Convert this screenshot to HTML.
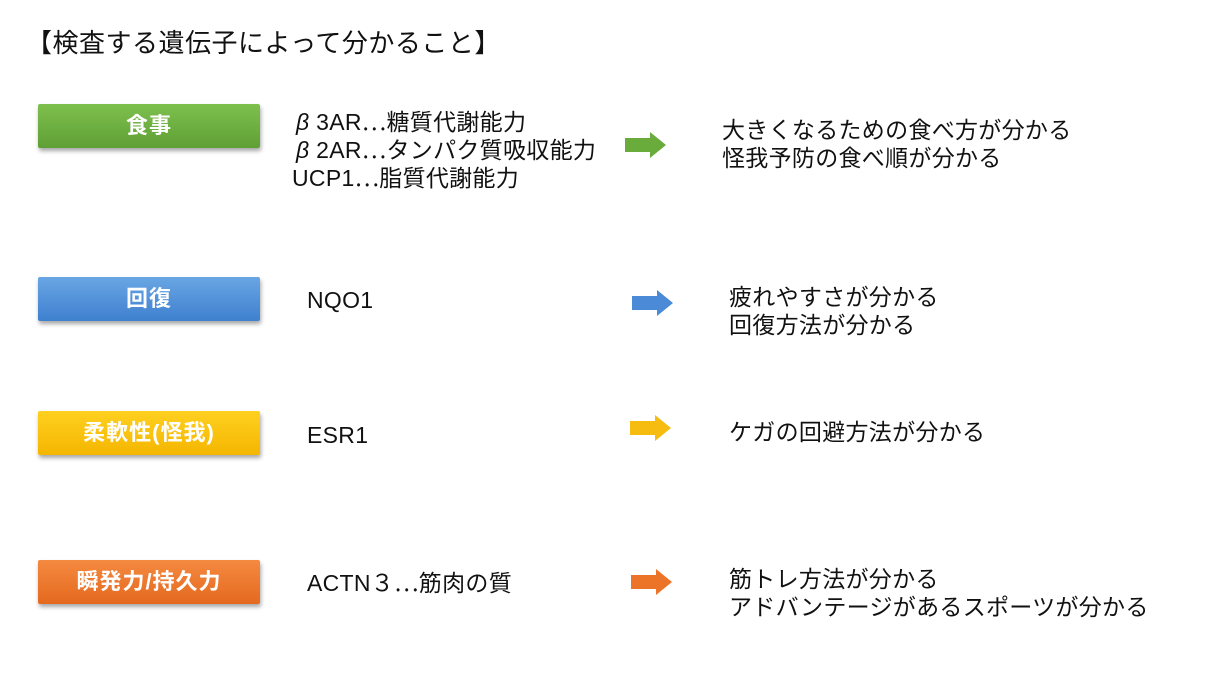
<!DOCTYPE html>
<html><head><meta charset="utf-8"><style>
body{margin:0;width:1218px;height:676px;background:#fff;position:relative;overflow:hidden;font-family:"Liberation Sans","Noto Sans CJK JP",sans-serif;color:#111}
.t{position:absolute;font-size:23px;line-height:28px;white-space:nowrap;letter-spacing:0.3px}
.e{font-family:"Noto Sans CJK JP",sans-serif}
.b{position:absolute;left:38px;width:222px;height:44px;color:#fff;font-weight:bold;font-size:22px;letter-spacing:1px;text-align:center;line-height:44px;box-shadow:1px 3px 4px rgba(0,0,0,.35);border-radius:2px}
svg{position:absolute}
</style></head><body>
<div class="t" style="left:26px;top:29px;font-size:26px;letter-spacing:0.5px">【検査する遺伝子によって分かること】</div>

<div class="b" style="top:104px;background:linear-gradient(#7ec04e,#5f9f35)">食事</div>
<div class="b" style="top:277px;background:linear-gradient(#69a6e4,#3f80cf)">回復</div>
<div class="b" style="top:411px;background:linear-gradient(#ffd020,#f4b600)">柔軟性(怪我)</div>
<div class="b" style="top:560px;background:linear-gradient(#f48a40,#e4691f)">瞬発力/持久力</div>

<div class="t" style="left:296px;top:106px"><i>β</i> 3AR<span class="e">…</span>糖質代謝能力</div>
<div class="t" style="left:296px;top:134px"><i>β</i> 2AR<span class="e">…</span>タンパク質吸収能力</div>
<div class="t" style="left:292px;top:162px">UCP1<span class="e">…</span>脂質代謝能力</div>
<div class="t" style="left:307px;top:286px">NQO1</div>
<div class="t" style="left:307px;top:421px">ESR1</div>
<div class="t" style="left:307px;top:567px">ACTN３<span class="e">…</span>筋肉の質</div>

<svg style="left:624px;top:130px" width="44" height="30"><polygon points="1,8 26,8 26,2 42,15 26,28 26,22 1,22" fill="#6aac3c"/></svg>
<svg style="left:631px;top:288px" width="44" height="30"><polygon points="1,8 26,8 26,2 42,15 26,28 26,22 1,22" fill="#4a8ad6"/></svg>
<svg style="left:629px;top:413px" width="44" height="30"><polygon points="1,8 26,8 26,2 42,15 26,28 26,22 1,22" fill="#f6bd10"/></svg>
<svg style="left:630px;top:567px" width="44" height="30"><polygon points="1,8 26,8 26,2 42,15 26,28 26,22 1,22" fill="#ec7428"/></svg>

<div class="t" style="left:722px;top:116px">大きくなるための食べ方が分かる</div>
<div class="t" style="left:722px;top:144px">怪我予防の食べ順が分かる</div>
<div class="t" style="left:729px;top:283px">疲れやすさが分かる</div>
<div class="t" style="left:729px;top:311px">回復方法が分かる</div>
<div class="t" style="left:729px;top:418px">ケガの回避方法が分かる</div>
<div class="t" style="left:729px;top:565px">筋トレ方法が分かる</div>
<div class="t" style="left:729px;top:593px">アドバンテージがあるスポーツが分かる</div>
</body></html>
